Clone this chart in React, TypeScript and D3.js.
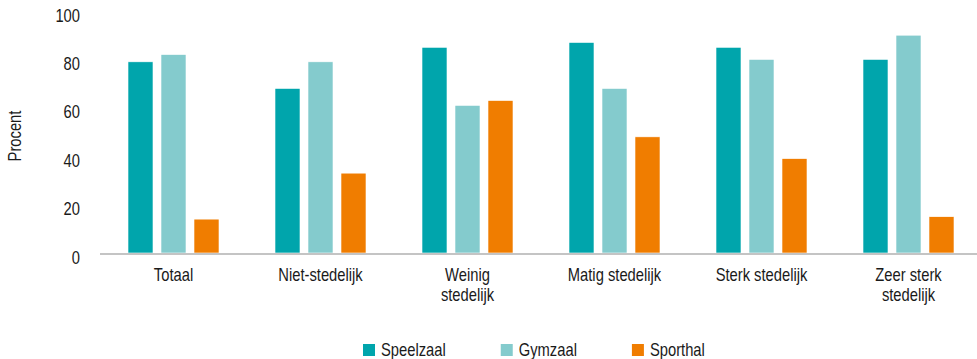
import { useEffect, useRef } from 'react';
import * as d3 from 'd3';

const categories = ['Totaal', 'Niet-stedelijk', 'Weinig\nstedelijk', 'Matig stedelijk', 'Sterk stedelijk', 'Zeer sterk\nstedelijk'];
const seriesNames = ['Speelzaal', 'Gymzaal', 'Sporthal'];
const speelzaal = [79, 68, 85, 87, 85, 80];
const gymzaal = [82, 79, 61, 68, 80, 90];
const sporthal = [14, 33, 63, 48, 39, 15];
const yTicks = [0, 20, 40, 60, 80, 100];

const COLORS: Record<string, string> = {
  Speelzaal: '#00a5ac',
  Gymzaal: '#84cbcd',
  Sporthal: '#f07d00',
};

const W = 977;
const H = 359;
const FONT = '"Liberation Sans", Arial, sans-serif';
// no condensed font available, so squeeze the regular one horizontally
const SQ = 0.82;

export default function App() {
  const svgRef = useRef<SVGSVGElement>(null);

  useEffect(() => {
    document.body.style.margin = '0';
    if (!svgRef.current) return;
    const svg = d3.select(svgRef.current);
    svg.selectAll('*').remove();

    const values = [speelzaal, gymzaal, sporthal];
    const x0 = d3.scaleBand<string>().domain(categories).range([100, 982]);
    const groupW = 91;
    const x1 = d3.scaleBand<string>().domain(seriesNames).range([0, groupW]).paddingInner(8 / 33);
    const y = d3.scaleLinear().domain([0, 100]).range([253, 11]);

    const textColor = '#1a1a1a';

    const label = (x: number, yy: number, anchor: string, rot = 0) =>
      svg.append('text')
        .attr('transform', `translate(${x},${yy}) rotate(${rot}) scale(${SQ},1)`)
        .attr('text-anchor', anchor)
        .attr('font-family', FONT).attr('font-size', 18).attr('fill', textColor);

    // y tick labels
    yTicks.forEach(d => {
      label(80, y(d) + 10.5, 'end').text(d);
    });

    // y title
    label(21, 136, 'middle', -90).text('Procent');

    // bars
    const offset = (x0.bandwidth() - groupW) / 2;
    categories.forEach((cat, ci) => {
      const g = svg.append('g').attr('transform', `translate(${x0(cat)! + offset},0)`);
      seriesNames.forEach((s, si) => {
        const v = values[si][ci];
        g.append('rect')
          .attr('x', x1(s)!).attr('width', x1.bandwidth())
          .attr('y', y(v)).attr('height', y(0) - y(v))
          .attr('fill', COLORS[s])
          .attr('stroke', '#ffffff').attr('stroke-width', 0.6);
      });
    });

    // baseline
    svg.append('line')
      .attr('x1', 100).attr('x2', 982).attr('y1', y(0) + 1).attr('y2', y(0) + 1)
      .attr('stroke', '#c4c4c4').attr('stroke-width', 2);

    // category labels
    categories.forEach(cat => {
      const cx = x0(cat)! + x0.bandwidth() / 2;
      cat.split('\n').forEach((line, i) => {
        label(cx, 281 + i * 20, 'middle').text(line);
      });
    });

    // legend
    let lx = 363;
    seriesNames.forEach(s => {
      svg.append('rect').attr('x', lx).attr('y', 344).attr('width', 12).attr('height', 12).attr('fill', COLORS[s]);
      const t = label(lx + 18, 356, 'start').text(s);
      const tw = (t.node() as SVGTextElement).getComputedTextLength() * SQ;
      lx += 18 + tw + 55;
    });
  }, []);

  return <svg ref={svgRef} width={W} height={H} style={{ display: 'block', background: '#fff' }} />;
}
